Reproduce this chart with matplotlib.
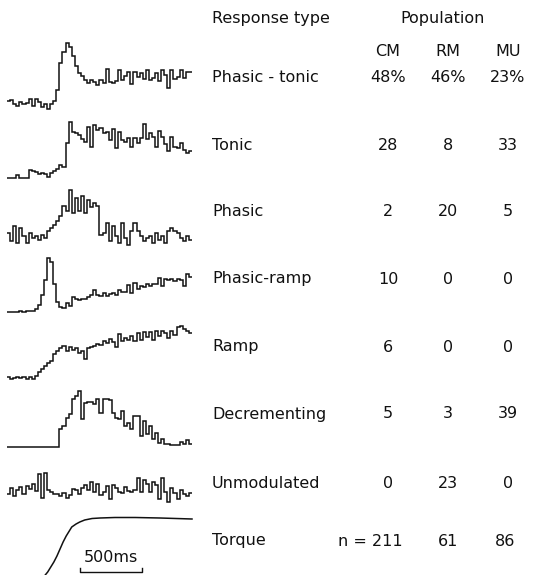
import numpy as np
import matplotlib
matplotlib.use("Agg")
import matplotlib.pyplot as plt

# ---- data -----------------------------------------------------------------
# Peri-movement firing histograms, 60 bins of 25 ms (0-1500 ms), arbitrary counts
phasic_tonic = [9, 10, 6, 4, 8, 6, 7, 11, 4, 11, 8, 3, 6, 1, 6, 9, 20, 47, 58, 67,
                63, 54, 44, 37, 34, 30, 27, 30, 28, 25, 30, 27, 41, 28, 27, 29, 40, 30, 34, 38,
                26, 38, 33, 37, 31, 40, 30, 32, 37, 29, 40, 35, 22, 40, 31, 33, 40, 32, 38, 38]
tonic = [5, 5, 5, 8, 5, 5, 5, 13, 12, 11, 9, 10, 9, 6, 10, 12, 14, 18, 16, 40,
         61, 51, 50, 48, 44, 41, 56, 36, 58, 53, 55, 50, 51, 43, 54, 35, 51, 43, 41, 45,
         36, 45, 40, 45, 59, 44, 50, 46, 36, 52, 46, 39, 32, 46, 36, 35, 40, 33, 30, 32]
phasic = [15, 7, 22, 5, 20, 12, 5, 15, 10, 12, 8, 13, 10, 17, 20, 23, 27, 32, 42, 37,
          58, 35, 50, 37, 52, 35, 48, 41, 45, 42, 13, 15, 25, 7, 22, 12, 5, 25, 10, 3,
          17, 25, 17, 12, 7, 10, 12, 5, 15, 8, 12, 5, 17, 20, 17, 15, 10, 7, 12, 8]
phasic_ramp = [2, 2, 2, 2, 3, 2, 3, 3, 3, 5, 9, 19, 34, 56, 52, 30, 12, 7, 6, 11,
               8, 17, 15, 14, 15, 15, 17, 19, 24, 19, 18, 21, 18, 20, 21, 19, 24, 22, 22, 29,
               21, 31, 25, 28, 27, 30, 28, 30, 30, 36, 28, 35, 34, 35, 33, 35, 34, 28, 40, 37]
ramp = [4, 2, 3, 4, 3, 4, 2, 4, 2, 5, 9, 12, 15, 18, 20, 27, 30, 33, 35, 30,
        34, 31, 33, 28, 30, 22, 33, 34, 35, 37, 36, 40, 38, 42, 39, 34, 47, 40, 43, 41,
        45, 40, 48, 41, 49, 44, 49, 41, 50, 45, 50, 48, 43, 50, 46, 54, 55, 52, 50, 48]
decrementing = [1, 1, 1, 1, 1, 1, 1, 1, 1, 1, 1, 1, 1, 1, 1, 1, 1, 19, 22, 30,
                34, 49, 52, 57, 29, 45, 46, 46, 44, 49, 35, 49, 49, 48, 35, 30, 29, 37, 22, 25,
                19, 32, 32, 12, 27, 14, 22, 9, 15, 5, 9, 4, 4, 3, 3, 3, 6, 4, 8, 4]
unmodulated = [10, 16, 8, 14, 17, 10, 18, 15, 20, 13, 30, 6, 31, 14, 12, 10, 10, 8, 11, 6,
               9, 15, 14, 10, 16, 19, 14, 22, 12, 20, 9, 12, 18, 5, 19, 16, 12, 11, 17, 13,
               12, 14, 26, 12, 24, 20, 12, 22, 19, 5, 26, 12, 2, 16, 11, 5, 14, 10, 8, 11]

# Torque trace (time in ms, torque in arbitrary units)
torque_t = [310, 330, 355, 380, 405, 430, 455, 480, 505, 525, 560, 590, 630, 690,
            755, 875, 1040, 1240, 1500]
torque_v = [0, 3, 8, 13, 19, 26, 33, 39, 44, 48, 51, 53, 55, 56.5, 57, 57.5, 57.5, 57, 56]

response_types = ["Phasic - tonic", "Tonic", "Phasic", "Phasic-ramp", "Ramp",
                  "Decrementing", "Unmodulated", "Torque"]
populations = ["CM", "RM", "MU"]
cm_counts = ["48%", "28", "2", "10", "6", "5", "0", "n = 211"]
rm_counts = ["46%", "8", "20", "0", "0", "3", "23", "61"]
mu_counts = ["23%", "33", "5", "0", "0", "39", "0", "86"]

histograms = [phasic_tonic, tonic, phasic, phasic_ramp, ramp, decrementing, unmodulated]
window_ms = 1500
scale_ms = 500

# ---- layout ---------------------------------------------------------------
W, H = 537, 575
fig = plt.figure(figsize=(W / 100, H / 100), dpi=100)
fig.patch.set_facecolor("white")

trace_left, trace_width, trace_height = 7, 185, 70
floors = [110, 183, 248, 314, 381, 448, 504]
ink = "#111111"
font = dict(family="DejaVu Sans", color=ink)


def trace_axes(floor):
    ax = fig.add_axes([trace_left / W, (H - floor) / H, trace_width / W, trace_height / H])
    ax.set_xlim(0, window_ms)
    ax.set_ylim(0, trace_height)
    ax.axis("off")
    return ax


for counts, floor in zip(histograms, floors):
    ax = trace_axes(floor)
    edges = np.linspace(0, window_ms, len(counts) + 1)
    ax.stairs(counts, edges, baseline=None, color=ink, linewidth=1.1)

# torque with 500 ms scale bar
axt = trace_axes(H)
axt.plot(torque_t, torque_v, color=ink, linewidth=1.1, clip_on=False)
sb0 = 592
axt.plot([sb0, sb0, sb0 + scale_ms, sb0 + scale_ms], [7, 3, 3, 7], color=ink, linewidth=1.0)
axt.text(sb0 + scale_ms / 2, 17, f"{scale_ms}ms", ha="center", va="center",
         fontsize=11.5, **font)

# ---- table ----------------------------------------------------------------
axl = fig.add_axes([0, 0, 1, 1])
axl.set_xlim(0, W)
axl.set_ylim(H, 0)
axl.axis("off")

fs = 11.5
axl.text(212, 19, "Response type", ha="left", va="center", fontsize=fs, **font)
axl.text(443, 19, "Population", ha="center", va="center", fontsize=fs, **font)
col_x = [388, 448, 508]
for x, name in zip(col_x, populations):
    axl.text(x, 52, name, ha="center", va="center", fontsize=fs, **font)

row_y = [78, 145, 212, 279, 347, 414, 484, 541]
for y, name, a, b, c in zip(row_y, response_types, cm_counts, rm_counts, mu_counts):
    axl.text(212, y, name, ha="left", va="center", fontsize=fs, **font)
    xa = 370 if a.startswith("n") else col_x[0]
    axl.text(xa, y, a, ha="center", va="center", fontsize=fs, **font)
    axl.text(col_x[1], y, b, ha="center", va="center", fontsize=fs, **font)
    axl.text(col_x[2] - (3 if c == "86" else 0), y, c, ha="center", va="center",
             fontsize=fs, **font)

fig.savefig("out.png", dpi=100, facecolor="white")
